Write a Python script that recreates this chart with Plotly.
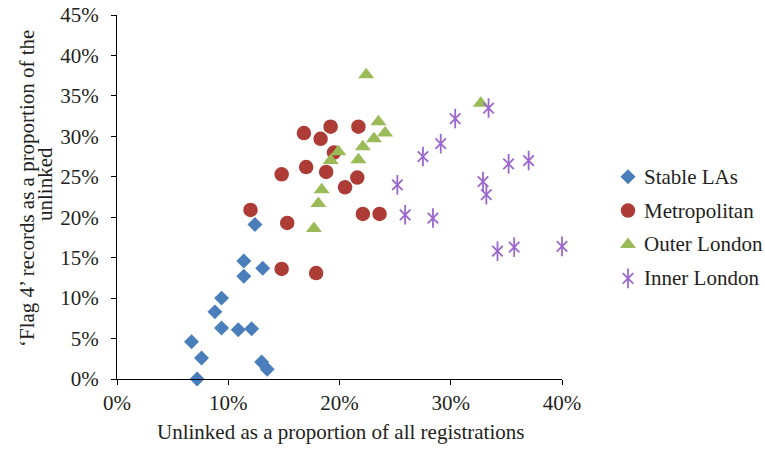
import plotly.graph_objects as go

# Unlinked share of all registrations (%) and 'Flag 4' share of the unlinked (%)
stable_x = [6.7, 7.6, 7.2, 8.8, 9.4, 9.4, 10.9, 12.1, 11.4, 11.4, 12.4, 13.1, 13.0, 13.5]
stable_y = [4.6, 2.6, 0.0, 8.3, 10.0, 6.3, 6.1, 6.2, 14.6, 12.7, 19.1, 13.7, 2.1, 1.2]

metro_x = [16.8, 19.2, 21.7, 18.3, 19.5, 17.0, 18.8, 14.8, 21.6, 20.5, 12.0, 15.3, 22.1, 23.6, 14.8, 17.9]
metro_y = [30.4, 31.2, 31.2, 29.7, 28.0, 26.2, 25.6, 25.3, 24.9, 23.7, 20.9, 19.3, 20.4, 20.4, 13.6, 13.1]

outer_x = [22.4, 23.5, 24.1, 23.1, 22.1, 19.9, 19.2, 21.7, 18.4, 18.1, 17.7, 32.7]
outer_y = [37.6, 31.8, 30.4, 29.7, 28.7, 28.1, 27.0, 27.1, 23.4, 21.7, 18.6, 34.1]

inner_x = [33.4, 30.4, 29.1, 27.5, 25.2, 25.9, 28.4, 32.9, 33.2, 35.2, 37.0, 34.2, 35.7, 40.0]
inner_y = [33.5, 32.2, 29.1, 27.5, 24.0, 20.3, 19.9, 24.4, 22.8, 26.6, 27.0, 15.8, 16.3, 16.4]

series_names = ["Stable LAs", "Metropolitan", "Outer London", "Inner London"]

x_ticks = [0, 10, 20, 30, 40]
y_ticks = [0, 5, 10, 15, 20, 25, 30, 35, 40, 45]
x_tick_text = [f"{v}%" for v in x_ticks]
y_tick_text = [f"{v}%" for v in y_ticks]

TEXT = "#231f20"
FONT = '"Liberation Serif", "Times New Roman", serif'
BLUE = "#4a7ebb"
RED = "#ae3c36"
GREEN = "#9bbb59"
PURPLE = "#9b67cf"

W, H = 765, 449
ML, MR, MT, MB = 117, 0, 15, 70
PW, PH = W - ML - MR, H - MT - MB
PLOT_RIGHT = 562  # right end of the scatter panel, px


def px_x(p):
    return (p - ML) / PW


def px_y(p):
    return (H - MB - p) / PH


marker_styles = [
    [dict(symbol="diamond", size=11.5, color=BLUE, line=dict(width=0))],
    [dict(symbol="circle", size=14.5, color=RED, line=dict(width=0))],
    [dict(symbol="triangle-up", size=14, color=GREEN, line=dict(width=0))],
    [dict(symbol="x-thin-open", size=10.5, color=PURPLE, line=dict(width=1.8, color=PURPLE)),
     dict(symbol="line-ns-open", size=14, color=PURPLE, line=dict(width=1.8, color=PURPLE))],
]
series_data = [(stable_x, stable_y), (metro_x, metro_y), (outer_x, outer_y), (inner_x, inner_y)]

fig = go.Figure()

# Scatter panel
for name, (xs, ys), styles in zip(series_names, series_data, marker_styles):
    for m in styles:
        fig.add_trace(go.Scatter(x=xs, y=ys, mode="markers", name=name, marker=m,
                                 showlegend=False, cliponaxis=False,
                                 xaxis="x", yaxis="y"))

# Key panel: one row per series, symbol followed by its name
for i, (name, styles) in enumerate(zip(series_names, marker_styles)):
    for m in styles:
        fig.add_trace(go.Scatter(x=[0], y=[i], mode="markers", marker=m,
                                 showlegend=False, hoverinfo="skip", cliponaxis=False,
                                 xaxis="x2", yaxis="y2"))

annotations = []
for i, name in enumerate(series_names):
    annotations.append(dict(text=name, x=14, y=i, xref="x2", yref="y2",
                            xanchor="left", yanchor="middle", showarrow=False,
                            font=dict(family=FONT, size=21, color=TEXT)))

# Two-line rotated y-axis title
annotations.append(dict(text="\u2018Flag 4\u2019 records as a proportion of the",
                        x=px_x(27), y=px_y(189), xref="paper", yref="paper",
                        xanchor="center", yanchor="middle", textangle=-90, showarrow=False,
                        font=dict(family=FONT, size=21, color=TEXT)))
annotations.append(dict(text="unlinked",
                        x=px_x(45), y=px_y(184), xref="paper", yref="paper",
                        xanchor="center", yanchor="middle", textangle=-90, showarrow=False,
                        font=dict(family=FONT, size=21, color=TEXT)))
# x-axis title
annotations.append(dict(text="Unlinked as a proportion of all registrations",
                        x=px_x(340), y=px_y(432), xref="paper", yref="paper",
                        xanchor="center", yanchor="middle", showarrow=False,
                        font=dict(family=FONT, size=21, color=TEXT)))

axis_common = dict(showgrid=False, zeroline=False, showline=True, linecolor="#000000",
                   linewidth=1.3, ticks="outside", ticklen=5, tickwidth=1.3,
                   tickcolor="#000000", tickmode="array", automargin=False,
                   tickfont=dict(family=FONT, size=21, color=TEXT))

fig.update_layout(
    width=W, height=H, autosize=False,
    margin=dict(l=ML, r=MR, t=MT, b=MB, pad=0, autoexpand=False),
    paper_bgcolor="white", plot_bgcolor="white",
    font=dict(family=FONT, size=21, color=TEXT),
    showlegend=False,
    xaxis=dict(domain=[0, px_x(PLOT_RIGHT)], range=[0, 40], tickvals=x_ticks,
               ticktext=x_tick_text, ticklabelstandoff=0, **axis_common),
    yaxis=dict(domain=[0, 1], range=[0, 45], tickvals=y_ticks,
               ticktext=y_tick_text, ticklabelstandoff=8, **axis_common),
    xaxis2=dict(domain=[px_x(600), 1], range=[-28, 137], visible=False, anchor="y2"),
    yaxis2=dict(domain=[px_y(295.3), px_y(159.7)], range=[3.5, -0.5], visible=False,
                anchor="x2"),
    annotations=annotations,
)

fig.write_html("out.html", config={"responsive": False})
